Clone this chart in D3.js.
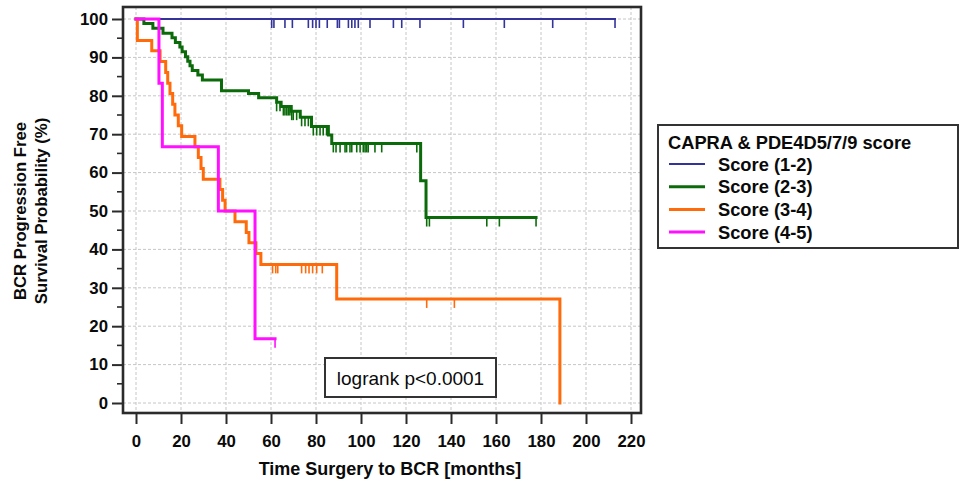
<!DOCTYPE html>
<html>
<head>
<meta charset="utf-8">
<script src="https://cdn.jsdelivr.net/npm/d3@7"></script>
<style>
  html, body { margin: 0; padding: 0; background: #fff; }
  svg { display: block; font-family: "Liberation Sans", Arial, sans-serif; }
</style>
</head>
<body>
<svg id="chart" width="959" height="484"></svg>
<script>
// Kaplan-Meier curves: BCR progression-free survival by CAPRA & PDE4D5/7/9 score
const groupNames = ["Score (1-2)", "Score (2-3)", "Score (3-4)", "Score (4-5)"];
const groupColors = ["#333399", "#0b6b0b", "#ff6a0a", "#ff10ff"];
const groupWidths = [2, 3, 3, 3];

// Event times (months) and survival (%) after each step
const score12Times = [];
const score12Surv = [];
const score12Censor = [60.3, 61.3, 66.2, 69.5, 76.6, 78.5, 80, 81.5, 85, 89.5, 90.4, 94.4, 95.9, 97.3, 98.8, 104,
  114.4, 118.1, 126.2, 145.5, 163.7, 185.2, 212.9];
const score12End = 212.9;

const score23Times = [3.5, 7.5, 12, 16, 17.5, 19.5, 20.5, 22, 23, 24, 25, 27.5, 29.5, 38, 50, 54.5,
  62.5, 64.5, 69, 73, 78, 85.5, 87, 126.5, 128.9];
const score23Surv = [98.8, 97.6, 96.3, 95.1, 93.9, 92.7, 91.5, 90.2, 89.0, 87.8, 86.6, 85.4, 84.1, 81.3, 80.6, 79.5,
  78.3, 77.2, 76.0, 74.4, 72.0, 69.8, 67.6, 57.9, 48.3];
const score23Censor = [62.5, 64, 65.5, 66.2, 67, 67.7, 68.4, 69.2, 69.9, 71.4, 73.6, 75.1, 76.6, 78.8, 80.3, 81.8,
  83.2, 84.7, 87.7, 88.9, 90.7, 92.9, 93.6, 95.1, 95.9, 98.1, 99.6, 101, 101.8, 102.5, 103.2, 106.2, 109.2,
  124.8, 129.2, 130.4, 155.9, 161.5, 177.8];
const score23End = 177.8;

const score34Times = [0.6, 7, 10.7, 13.2, 14.1, 15.1, 16.3, 17.3, 18.8, 20.3, 26.2, 27.7, 28.9, 29.9, 37.3, 38.5,
  39.6, 44, 49, 50.2, 53.3, 55.5, 89.2, 188.4];
const score34Surv = [94.4, 91.7, 88.9, 86.1, 83.3, 80.6, 77.8, 75.0, 72.2, 69.4, 66.7, 63.9, 61.1, 58.3, 55.6, 52.8,
  50.0, 47.2, 44.4, 41.7, 38.9, 36.1, 27.1, 0];
const score34Censor = [60.7, 62.1, 63, 73.6, 75.4, 76.9, 78.5, 80.3, 82.8, 129.2, 141.5];
const score34End = 188.4;

const score45Times = [10.2, 11.7, 36.6, 52.9];
const score45Surv = [83.3, 66.7, 50.0, 16.7];
const score45Censor = [61.8];
const score45End = 61.8;

const xTicks = [0, 20, 40, 60, 80, 100, 120, 140, 160, 180, 200, 220];
const yTicks = [0, 10, 20, 30, 40, 50, 60, 70, 80, 90, 100];
const yMinorTicks = [5, 15, 25, 35, 45, 55, 65, 75, 85, 95];

const xTitle = "Time Surgery to BCR [months]";
const yTitleLines = ["BCR Progression Free", "Survival Probability (%)"];
const legendTitle = "CAPRA & PDE4D5/7/9 score";
const statText = "logrank p<0.0001";

const series = [
  { times: score12Times, surv: score12Surv, censor: score12Censor, end: score12End },
  { times: score23Times, surv: score23Surv, censor: score23Censor, end: score23End },
  { times: score34Times, surv: score34Surv, censor: score34Censor, end: score34End },
  { times: score45Times, surv: score45Surv, censor: score45Censor, end: score45End }
];

const svg = d3.select("#chart");
const frame = { left: 123, right: 641, top: 7, bottom: 413 };
const x = d3.scaleLinear().domain([0, 220]).range([136, 631]);
const y = d3.scaleLinear().domain([0, 100]).range([403, 19]);
const axisColor = "#2b2b2b";
const textColor = "#0a0a0a";

// grid
const grid = svg.append("g").attr("stroke", "#c6c6c6").attr("stroke-width", 1).attr("stroke-dasharray", "3,2");
grid.selectAll("line.v").data(xTicks).join("line")
  .attr("x1", d => x(d)).attr("x2", d => x(d))
  .attr("y1", frame.top).attr("y2", frame.bottom);
grid.selectAll("line.h").data(yTicks).join("line")
  .attr("x1", frame.left).attr("x2", frame.right)
  .attr("y1", d => y(d)).attr("y2", d => y(d));

// curves
const stepLine = d3.line().x(d => x(d[0])).y(d => y(d[1])).curve(d3.curveStepAfter);
function survivalAt(s, t) {
  let v = 100;
  s.times.forEach((tt, i) => { if (tt <= t) v = s.surv[i]; });
  return v;
}
const curves = svg.append("g");
series.forEach((s, i) => {
  const pts = [[0, 100]];
  s.times.forEach((t, k) => pts.push([t, s.surv[k]]));
  const last = pts[pts.length - 1];
  if (last[0] < s.end) pts.push([s.end, last[1]]);
  const g = curves.append("g").attr("stroke", groupColors[i]).attr("fill", "none");
  g.append("path").attr("d", stepLine(pts)).attr("stroke-width", groupWidths[i])
    .attr("stroke-linejoin", "miter").attr("stroke-linecap", "square");
  g.selectAll("line").data(s.censor).join("line")
    .attr("x1", d => x(d)).attr("x2", d => x(d))
    .attr("y1", d => y(survivalAt(s, d))).attr("y2", d => y(survivalAt(s, d)) + 9)
    .attr("stroke-width", 1.6);
});

// frame
svg.append("rect")
  .attr("x", frame.left).attr("y", frame.top)
  .attr("width", frame.right - frame.left).attr("height", frame.bottom - frame.top)
  .attr("fill", "none").attr("stroke", axisColor).attr("stroke-width", 2.6);

// y axis
const yAxis = d3.axisLeft(y).tickValues(yTicks).tickSize(11).tickPadding(4);
const gy = svg.append("g").attr("transform", `translate(${frame.left},0)`).call(yAxis);
gy.select(".domain").remove();
gy.selectAll(".tick line").attr("stroke", axisColor).attr("stroke-width", 2);
gy.selectAll(".tick text").attr("fill", textColor).attr("font-size", 16.8).attr("font-weight", "bold")
  .attr("font-family", "Liberation Sans, Arial, sans-serif");
svg.append("g").selectAll("line").data(yMinorTicks).join("line")
  .attr("x1", frame.left - 6).attr("x2", frame.left)
  .attr("y1", d => y(d)).attr("y2", d => y(d))
  .attr("stroke", axisColor).attr("stroke-width", 1.6);

// x axis
const xAxis = d3.axisBottom(x).tickValues(xTicks).tickSize(11).tickPadding(11);
const gx = svg.append("g").attr("transform", `translate(0,${frame.bottom})`).call(xAxis);
gx.select(".domain").remove();
gx.selectAll(".tick line").attr("stroke", axisColor).attr("stroke-width", 2);
gx.selectAll(".tick text").attr("fill", textColor).attr("font-size", 16.8).attr("font-weight", "bold")
  .attr("font-family", "Liberation Sans, Arial, sans-serif");

// axis titles
svg.append("text").attr("x", 390).attr("y", 475)
  .attr("text-anchor", "middle").attr("font-size", 18).attr("font-weight", "bold").attr("fill", textColor)
  .text(xTitle);
yTitleLines.forEach((t, i) => {
  svg.append("text")
    .attr("transform", `translate(${26 + i * 21},211) rotate(-90)`)
    .attr("text-anchor", "middle").attr("font-size", 16.7).attr("font-weight", "bold").attr("fill", textColor)
    .text(t);
});

// statistic box
const stat = svg.append("g");
stat.append("rect").attr("x", 325).attr("y", 358).attr("width", 171).attr("height", 39)
  .attr("fill", "#fff").attr("stroke", "#333").attr("stroke-width", 2);
stat.append("text").attr("x", 410.5).attr("y", 384.5).attr("text-anchor", "middle")
  .attr("font-size", 19).attr("fill", textColor).text(statText);

// legend
const legend = svg.append("g");
legend.append("rect").attr("x", 658).attr("y", 125).attr("width", 300).attr("height", 123)
  .attr("fill", "#fff").attr("stroke", "#333").attr("stroke-width", 2);
legend.append("text").attr("x", 668).attr("y", 148.5).attr("font-size", 18.3).attr("font-weight", "bold")
  .attr("fill", textColor).text(legendTitle);
groupNames.forEach((name, i) => {
  const ly = 164 + i * 22.7;
  legend.append("line").attr("x1", 669).attr("x2", 705).attr("y1", ly).attr("y2", ly)
    .attr("stroke", groupColors[i]).attr("stroke-width", groupWidths[i]);
  legend.append("text").attr("x", 718).attr("y", ly + 6.5).attr("font-size", 18.3).attr("font-weight", "bold")
    .attr("fill", textColor).text(name);
});
</script>
</body>
</html>
